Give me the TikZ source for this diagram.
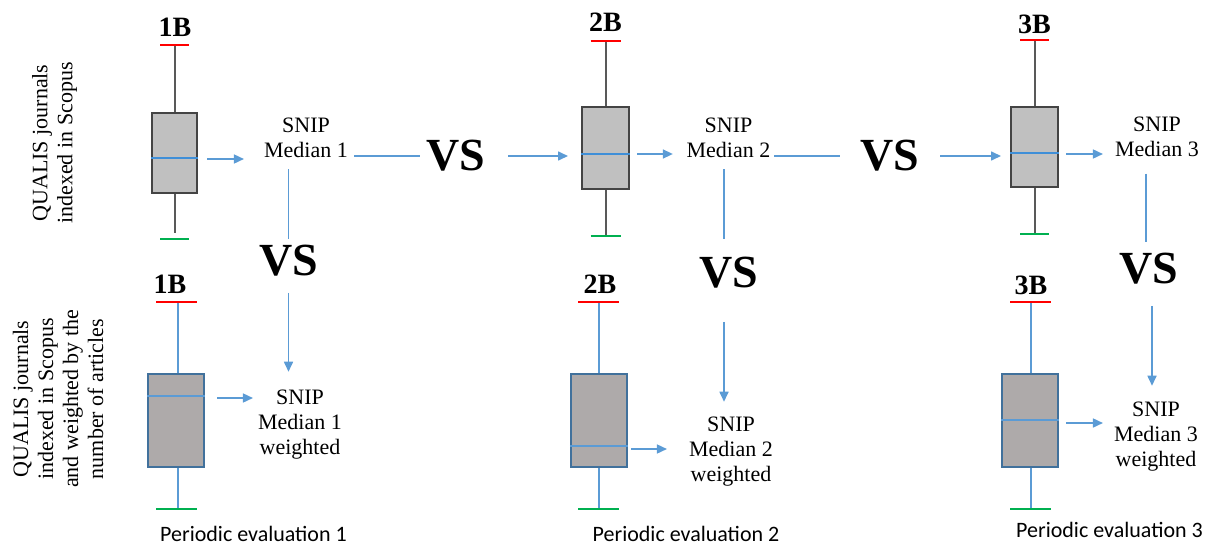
\documentclass[tikz,border=0pt]{standalone}
\usepackage{fontspec}
\setmainfont{Liberation Serif}
\newfontfamily\carlitofont{Carlito}
\usetikzlibrary{arrows.meta}

\definecolor{boxgray}{HTML}{C0C0C0}
\definecolor{boxedge}{HTML}{444444}
\definecolor{whiskgray}{HTML}{595959}
\definecolor{wboxfill}{HTML}{AEAAAA}
\definecolor{wboxedge}{HTML}{41719C}
\definecolor{linkblue}{HTML}{5B9BD5}
\definecolor{medblue}{HTML}{3F8FD8}
\definecolor{capred}{HTML}{FF0000}
\definecolor{capgreen}{HTML}{00B050}

\tikzset{
  plainbox/.style={draw=boxedge, line width=2pt, fill=boxgray, inner sep=0pt},
  wbox/.style={draw=wboxedge, line width=2.2pt, fill=wboxfill, inner sep=0pt},
  whisk/.style={draw=whiskgray, line width=2pt},
  wwhisk/.style={draw=linkblue, line width=2pt},
  medline/.style={draw=medblue, line width=1.6pt},
  wmedline/.style={draw=linkblue, line width=2pt},
  redcap/.style={draw=capred, line width=1.4pt},
  greencap/.style={draw=capgreen, line width=1.4pt},
  wredcap/.style={draw=capred, line width=2.8pt},
  wgreencap/.style={draw=capgreen, line width=2.8pt},
  link/.style={draw=linkblue, line width=1.6pt},
  arr/.style={link, -{Triangle[length=10pt,width=9pt]}},
  snip/.style={inner sep=0pt, align=center, font=\fontsize{22}{25}\selectfont},
  vslabel/.style={inner sep=0pt, font=\fontsize{46}{46}\selectfont\bfseries},
  blabel/.style={inner sep=0pt, anchor=base, font=\fontsize{28}{28}\selectfont\bfseries},
  sidelabel/.style={inner sep=0pt, align=center, rotate=90, font=\fontsize{22}{25}\selectfont},
  evallabel/.style={inner sep=0pt, anchor=base, font=\fontsize{22}{22}\selectfont\carlitofont},
}

\begin{document}
\begin{tikzpicture}[x=1pt, y=-1pt]
\useasboundingbox (0,0) rectangle (1212,546);

% side labels
\node[sidelabel] (ql1) at (54.5,143) {QUALIS journals\\indexed in Scopus};
\node[sidelabel] (ql2) at (58,399) {QUALIS journals\\indexed in Scopus\\and weighted by the\\number of articles};

% ---------- top row: plain box plots ----------
\draw[whisk] (175,45) -- (175,233);
\draw[redcap] (160,45) -- (189,45);
\draw[greencap] (160,239) -- (189,239);
\node[plainbox, minimum width=45pt, minimum height=80pt] (b1) at (174.5,153) {};
\draw[medline] ([yshift=-5pt]b1.west) -- ([yshift=-5pt]b1.east);

\draw[whisk] (605.5,41) -- (605.5,236);
\draw[redcap] (590.5,41) -- (620.5,41);
\draw[greencap] (590.5,236) -- (620.5,236);
\node[plainbox, minimum width=47pt, minimum height=82pt] (b2) at (605.5,148) {};
\draw[medline] ([yshift=-6pt]b2.west) -- ([yshift=-6pt]b2.east);

\draw[whisk] (1034.5,40) -- (1034.5,234);
\draw[redcap] (1020,40) -- (1049,40);
\draw[greencap] (1020,234) -- (1049,234);
\node[plainbox, minimum width=47pt, minimum height=80pt] (b3) at (1034.5,147) {};
\draw[medline] ([yshift=-6pt]b3.west) -- ([yshift=-6pt]b3.east);

\node[blabel] (t1) at (175,36) {1B};
\node[blabel] (t2) at (605.5,31) {2B};
\node[blabel] (t3) at (1034.5,33) {3B};

\node[snip] (s1) at (306,138) {SNIP\\Median 1};
\node[snip] (s2) at (728.5,138) {SNIP\\Median 2};
\node[snip] (s3) at (1157,136.5) {SNIP\\Median 3};

\node[vslabel] (va) at (456,156) {VS};
\node[vslabel] (vb) at (889.5,156) {VS};

% ---------- bottom row: weighted box plots ----------
\draw[wwhisk] (177.5,302) -- (177.5,509);
\draw[wredcap] (156,302) -- (197,302);
\draw[wgreencap] (156,509) -- (197,509);
\node[wbox, minimum width=56pt, minimum height=93pt] (c1) at (176,420.5) {};
\draw[wmedline] ([yshift=24.5pt]c1.west) -- ([yshift=24.5pt]c1.east);

\draw[wwhisk] (599,302) -- (599,509);
\draw[wredcap] (578,302) -- (619,302);
\draw[wgreencap] (578,509) -- (619,509);
\node[wbox, minimum width=56pt, minimum height=93pt] (c2) at (599,420.5) {};
\draw[wmedline] ([yshift=-25.5pt]c2.west) -- ([yshift=-25.5pt]c2.east);

\draw[wwhisk] (1031,302) -- (1031,509);
\draw[wredcap] (1010,302) -- (1051,302);
\draw[wgreencap] (1010,509) -- (1051,509);
\node[wbox, minimum width=56pt, minimum height=93pt] (c3) at (1030,420.5) {};
\draw[wmedline] ([yshift=0.5pt]c3.west) -- ([yshift=0.5pt]c3.east);

\node[blabel] (u1) at (170,293) {1B};
\node[blabel] (u2) at (600,293) {2B};
\node[blabel] (u3) at (1031,294) {3B};

\node[snip] (w1) at (300,425) {SNIP\\Median 1\\weighted};
\node[snip] (w2) at (731,451.6) {SNIP\\Median 2\\weighted};
\node[snip] (w3) at (1156,437) {SNIP\\Median 3\\weighted};

\node[vslabel] (v1) at (288.5,261) {VS};
\node[vslabel] (v2) at (728.5,272.5) {VS};
\node[vslabel] (v3) at (1148.5,269) {VS};

\node[evallabel] (p1) at (253.5,541.7) {Periodic evaluation 1};
\node[evallabel] (p2) at (686,541.7) {Periodic evaluation 2};
\node[evallabel] (p3) at (1109.5,537) {Periodic evaluation 3};

% ---------- connectors, top row ----------
\draw[arr, shorten <=9pt, shorten >=20pt] ([yshift=-6pt]b1.east) -- ([yshift=-21pt]s1.west);
\draw[link, shorten <=6pt, shorten >=6.5pt] (s1.east |- va.west) -- (va.west);
\draw[arr, shorten <=22.5pt, shorten >=13pt] (va.east) -- (va.east -| b2.west);
\draw[arr, shorten <=7pt, shorten >=13.6pt] ([yshift=-6pt]b2.east) -- ([yshift=-16pt]s2.west);
\draw[link, shorten <=3.6pt, shorten >=20pt] (s2.east |- vb.west) -- (vb.west);
\draw[arr, shorten <=21pt, shorten >=9pt] (vb.east) -- (vb.east -| b3.west);
\draw[arr, shorten <=7pt, shorten >=12pt] ([yshift=-7pt]b3.east) -- ([yshift=-17.5pt]s3.west);

% ---------- connectors, vertical comparisons ----------
\draw[link, shorten <=11pt, shorten >=6pt] (v1.north |- s1.south) -- (v1.north);
\draw[arr, shorten <=16pt, shorten >=18.4pt] (v1.south) -- (v1.south |- w1.north);
\draw[link, shorten <=11pt, shorten >=17.5pt] ([xshift=-4.5pt]v2.north |- s2.south) -- ([xshift=-4.5pt]v2.north);
\draw[arr, shorten <=33.5pt, shorten >=15pt] ([xshift=-4.5pt]v2.south) -- ([xshift=-4.5pt]v2.south |- w2.north);
\draw[link, shorten <=17pt, shorten >=11pt] ([xshift=-2.5pt]v3.north |- s3.south) -- ([xshift=-2.5pt]v3.north);
\draw[arr, shorten <=21pt, shorten >=16.4pt] ([xshift=3.5pt]v3.south) -- ([xshift=3.5pt]v3.south |- w3.north);

% ---------- connectors, bottom row ----------
\draw[arr, shorten <=12pt, shorten >=5pt] ([yshift=22.5pt]c1.east) -- ([yshift=27pt]w1.west);
\draw[arr, shorten <=3pt, shorten >=22pt] ([yshift=-28.5pt]c2.east) -- ([yshift=2.6pt]w2.west);
\draw[arr, shorten <=7pt, shorten >=11pt] ([yshift=-2.5pt]c3.east) -- ([yshift=14pt]w3.west);
\end{tikzpicture}
\end{document}
